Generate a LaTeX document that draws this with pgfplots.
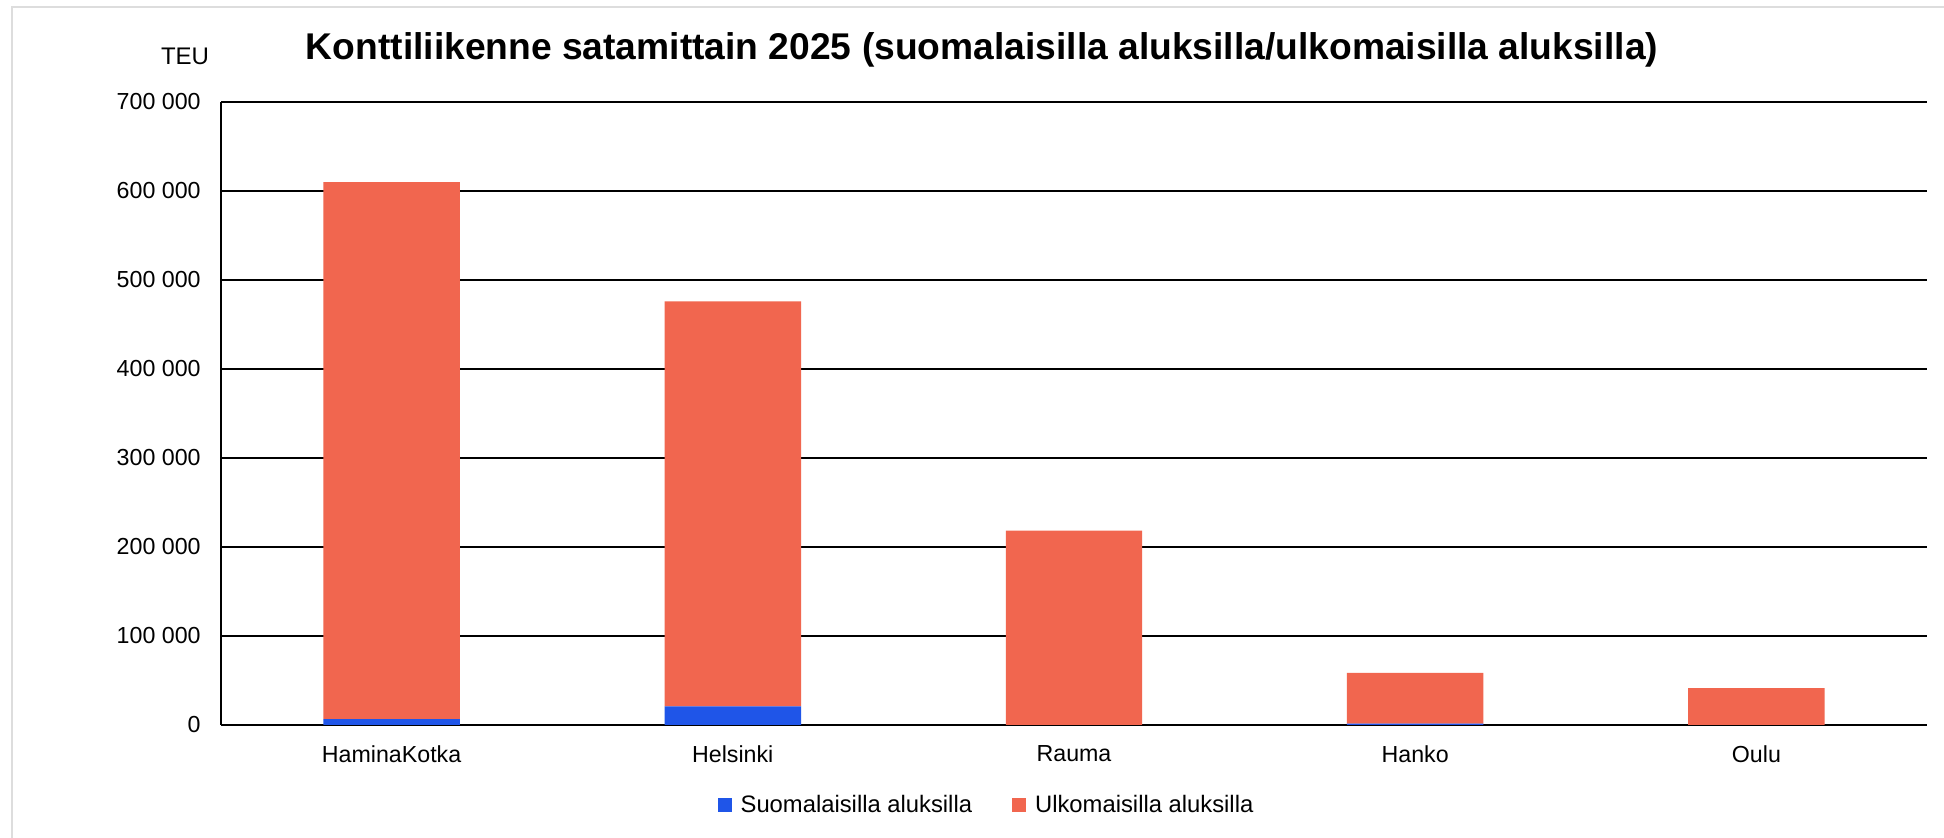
\documentclass[border=0pt]{standalone}
\usepackage{pgfplots}
\pgfplotsset{compat=1.18}
\usepackage{fontspec}
\setmainfont{Liberation Sans}
\definecolor{fin}{HTML}{1F55E8}
\definecolor{ulk}{HTML}{F1664F}
\definecolor{frame}{HTML}{DDDDDD}
\begin{document}
\begin{tikzpicture}
\useasboundingbox (0,0) rectangle (972pt,419pt);
\fill[white] (0,0) rectangle (972pt,419pt);
\draw[frame, line width=1.2pt] (6pt,0) -- (6pt,415.5pt) -- (972pt,415.5pt);
\node[font=\fontsize{18.6}{22}\selectfont\bfseries] at (491pt,394pt) {Konttiliikenne satamittain 2025 (suomalaisilla aluksilla/ulkomaisilla aluksilla)};
\node[font=\fontsize{12}{14}\selectfont] at (92.5pt,391pt) {TEU};
\begin{axis}[
  at={(110.5pt,56.5pt)}, anchor=south west,
  scale only axis, width=853pt, height=311.5pt,
  ybar stacked, bar width=0.4,
  xmin=-0.5, xmax=4.5, ymin=0, ymax=700000,
  xtick={0,1,2,3,4},
  xticklabels={HaminaKotka,Helsinki,Rauma,Hanko,Oulu},
  ytick={0,100000,200000,300000,400000,500000,600000,700000},
  yticklabels={0,100 000,200 000,300 000,400 000,500 000,600 000,700 000},
  scaled y ticks=false,
  major tick length=0pt,
  axis x line*=bottom, axis y line*=left,
  x axis line style={line width=1.4pt, -},
  y axis line style={line width=0.9pt, -},
  ymajorgrids, grid style={black, line width=0.9pt},
  tick label style={font=\fontsize{11.6}{14}\selectfont},
  y tick label style={anchor=east, inner sep=0pt, xshift=-10pt},
  x tick label style={anchor=north, inner sep=0pt, yshift=-10pt},
  legend columns=2,
  legend style={at={(0.4493,-0.1284)}, anchor=center, draw=none, fill=none,
    font=\fontsize{11.9}{14}\selectfont, inner sep=0pt,
    /tikz/every odd column/.append style={column sep=2.5pt},
    /tikz/every even column/.append style={column sep=18pt}},
  legend image code/.code={\fill[#1] (0pt,-3.5pt) rectangle (7pt,3.5pt);},
]
\addplot[fill=fin, draw=none] coordinates {(0,6500) (1,21000) (2,0) (3,1500) (4,0)};
\addplot[fill=ulk, draw=none] coordinates {(0,603500) (1,455000) (2,218500) (3,57000) (4,41500)};
\legend{Suomalaisilla aluksilla, Ulkomaisilla aluksilla}
\end{axis}
\end{tikzpicture}
\end{document}
